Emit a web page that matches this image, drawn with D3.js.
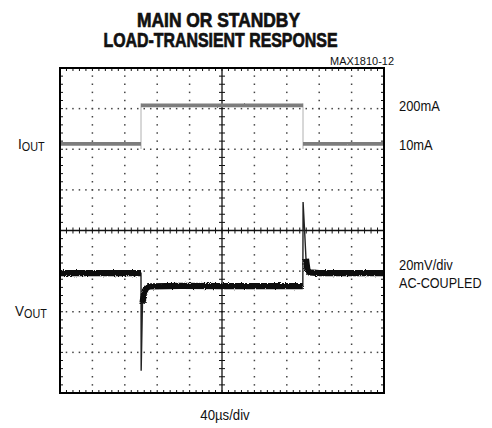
<!DOCTYPE html>
<html>
<head>
<meta charset="utf-8">
<script src="https://cdn.jsdelivr.net/npm/d3@7"></script>
<style>
  html, body { margin: 0; padding: 0; background: #fff; }
  svg { display: block; }
  text { font-family: "Liberation Sans Narrow", "Liberation Sans", Arial, sans-serif; fill: #111; }
</style>
</head>
<body>
<div id="chart"></div>
<script>
// ---------------- data ----------------
const titleLines = ["MAIN OR STANDBY", "LOAD-TRANSIENT RESPONSE"];
const figureId = "MAX1810-12";
const xAxisLabel = "40\u00b5s/div";

// time axis: 10 divisions x 40 us
const timeDomain = [0, 400];
const timeDivisionUs = 40;
const verticalDivisions = [-4, 4];

// IOUT trace (time in us, current in mA)
const ioutTime = [0, 100, 100, 300, 300, 400];
const ioutMa   = [10, 10, 200, 200, 10, 10];
const ioutLevels = [10, 200];          // mA
const ioutLevelDivs = [2.13, 3.08];    // screen position of those levels (div)
const ioutLabels = ["10mA", "200mA"];

// VOUT trace (time in us, AC-coupled voltage in mV, 20mV/div)
const voutTime = [0, 100, 100.2, 101.8, 103, 104.3, 106, 107.6, 112, 150, 200, 250, 299.8, 300.1, 301.9, 303.7, 305.5, 308, 320, 400];
const voutMv   = [-21, -21, -69, -36, -32.5, -30, -28.8, -28, -27.5, -27.3, -27.4, -27.4, -27.4, 14, 0.5, -14, -19.5, -20.6, -21, -21];
const voutMvPerDiv = 20;
const voutLabels = ["20mV/div", "AC-COUPLED"];

// ---------------- layout ----------------
const W = 492, H = 428;
const frame = { left: 60, right: 384, top: 68, bottom: 393 };

const svg = d3.select("#chart").append("svg")
  .attr("width", W).attr("height", H);

const defs = svg.append("defs");
function noiseFilter(id, freq, scale, seed) {
  const f = defs.append("filter").attr("id", id)
    .attr("filterUnits", "userSpaceOnUse")
    .attr("x", 0).attr("y", 0).attr("width", W).attr("height", H);
  f.append("feTurbulence").attr("type", "fractalNoise").attr("baseFrequency", freq)
    .attr("numOctaves", 1).attr("seed", seed).attr("result", "t");
  f.append("feDisplacementMap").attr("in", "SourceGraphic").attr("in2", "t")
    .attr("scale", scale).attr("xChannelSelector", "R").attr("yChannelSelector", "G");
}
noiseFilter("noise", 1.1, 3.4, 3);
noiseFilter("noise2", 1.3, 1.8, 7);

const x = d3.scaleLinear().domain(timeDomain).range([frame.left, frame.right]);
const yDiv = d3.scaleLinear().domain(verticalDivisions).range([frame.bottom, frame.top]);
const ioutToDiv = d3.scaleLinear().domain(ioutLevels).range(ioutLevelDivs);
const voutToDiv = v => v / voutMvPerDiv;

const g = svg.append("g");

// ---------------- graticule ----------------
const minorX = d3.range(timeDomain[0], timeDomain[1] + 0.001, timeDivisionUs / 5);
const minorY = d3.range(verticalDivisions[0], verticalDivisions[1] + 0.001, 0.2);
const majorX = d3.range(timeDomain[0] + timeDivisionUs, timeDomain[1], timeDivisionUs);
const majorY = d3.range(verticalDivisions[0] + 1, verticalDivisions[1], 1);
const centerT = (timeDomain[0] + timeDomain[1]) / 2;

const dots = [];
majorX.filter(t => t !== centerT).forEach(t => minorY.forEach(d => dots.push([x(t), yDiv(d)])));
majorY.filter(d => d !== 0).forEach(d => minorX.forEach(t => dots.push([x(t), yDiv(d)])));
g.append("g").selectAll("rect").data(dots).join("rect")
  .attr("x", d => d[0] - 0.75).attr("y", d => d[1] - 0.75)
  .attr("width", 1.5).attr("height", 1.5).attr("fill", "#444");

// center axes
const axG = g.append("g").attr("stroke", "#111").attr("fill", "none");
axG.append("line").attr("x1", x(timeDomain[0])).attr("x2", x(timeDomain[1]))
  .attr("y1", yDiv(0)).attr("y2", yDiv(0)).attr("stroke-width", 1.3);
axG.append("line").attr("x1", x(centerT)).attr("x2", x(centerT))
  .attr("y1", yDiv(verticalDivisions[0])).attr("y2", yDiv(verticalDivisions[1])).attr("stroke-width", 1.3);
axG.selectAll(".tx").data(minorX).join("line").attr("class", "tx")
  .attr("x1", d => x(d)).attr("x2", d => x(d))
  .attr("y1", yDiv(0) - 3).attr("y2", yDiv(0) + 3).attr("stroke-width", 1);
axG.selectAll(".ty").data(minorY).join("line").attr("class", "ty")
  .attr("y1", d => yDiv(d)).attr("y2", d => yDiv(d))
  .attr("x1", x(centerT) - 3).attr("x2", x(centerT) + 3).attr("stroke-width", 1);

// border ticks
const bt = g.append("g").attr("stroke", "#111").attr("stroke-width", 1);
bt.selectAll(".bl").data(minorY).join("line").attr("class", "bl")
  .attr("x1", frame.left).attr("x2", frame.left + 3).attr("y1", d => yDiv(d)).attr("y2", d => yDiv(d));
bt.selectAll(".br").data(minorY).join("line").attr("class", "br")
  .attr("x1", frame.right - 3).attr("x2", frame.right).attr("y1", d => yDiv(d)).attr("y2", d => yDiv(d));
bt.selectAll(".bt").data(minorX).join("line").attr("class", "bt")
  .attr("y1", frame.top).attr("y2", frame.top + 3).attr("x1", d => x(d)).attr("x2", d => x(d));
bt.selectAll(".bb").data(minorX).join("line").attr("class", "bb")
  .attr("y1", frame.bottom - 3).attr("y2", frame.bottom).attr("x1", d => x(d)).attr("x2", d => x(d));

// ---------------- traces ----------------
const line = d3.line().x(d => d[0]).y(d => d[1]);

// IOUT
const ioutPts = ioutTime.map((t, i) => [x(t), yDiv(ioutToDiv(ioutMa[i]))]);
for (let i = 0; i < ioutPts.length - 1; i++) {
  const a = ioutPts[i], b = ioutPts[i + 1];
  if (ioutTime[i] === ioutTime[i + 1]) {
    const lo = Math.max(a[1], b[1]), hi = Math.min(a[1], b[1]);
    g.append("path").attr("d", line([[a[0], hi - 2], [a[0], lo + 5]]))
      .attr("stroke", "#b0b0b0").attr("stroke-width", 1).attr("fill", "none");
  }
}
for (let i = 0; i < ioutPts.length - 1; i++) {
  if (ioutTime[i] !== ioutTime[i + 1]) {
    g.append("path").attr("d", line([ioutPts[i], ioutPts[i + 1]]))
      .attr("stroke", "#7d7d7d").attr("stroke-width", 3.8).attr("fill", "none")
      .attr("filter", "url(#noise2)");
  }
}

// VOUT
const voutPts = voutTime.map((t, i) => [x(t), yDiv(voutToDiv(voutMv[i]))]);
g.append("path").attr("d", line(voutPts))
  .attr("stroke", "#222").attr("stroke-width", 1.4).attr("fill", "none");
let run = [];
const runs = [];
for (let i = 0; i < voutPts.length - 1; i++) {
  const slope = Math.abs((voutMv[i + 1] - voutMv[i]) / (voutTime[i + 1] - voutTime[i]));
  if (slope < 4) {
    if (run.length === 0) run.push(voutPts[i]);
    run.push(voutPts[i + 1]);
  } else {
    if (run.length) runs.push(run);
    run = [];
  }
}
if (run.length) runs.push(run);
g.append("g").selectAll("path").data(runs).join("path")
  .attr("d", d => line(d))
  .attr("stroke", "#111").attr("stroke-width", 6.2).attr("fill", "none")
  .attr("stroke-linejoin", "round")
  .attr("filter", "url(#noise)");

// frame
g.append("rect").attr("x", frame.left).attr("y", frame.top)
  .attr("width", frame.right - frame.left).attr("height", frame.bottom - frame.top)
  .attr("fill", "none").attr("stroke", "#000").attr("stroke-width", 2);

// ---------------- text ----------------
const title = svg.append("g").attr("font-weight", "bold").attr("font-size", 20)
  .attr("stroke", "#111").attr("stroke-width", 0.7);
title.append("text").attr("x", 218.5).attr("y", 26.5).attr("text-anchor", "middle")
  .attr("textLength", 163).attr("lengthAdjust", "spacingAndGlyphs").text(titleLines[0]);
title.append("text").attr("x", 220.5).attr("y", 46.5).attr("text-anchor", "middle")
  .attr("textLength", 234).attr("lengthAdjust", "spacingAndGlyphs").text(titleLines[1]);

svg.append("text").attr("x", 394).attr("y", 64.5).attr("text-anchor", "end")
  .attr("font-size", 10.5).attr("textLength", 64).attr("lengthAdjust", "spacingAndGlyphs")
  .text(figureId);

// right labels (horizontally condensed via transform)
function condensedText(xPos, yPos, size, sx, str) {
  svg.append("g").attr("transform", `translate(${xPos},${yPos}) scale(${sx},1)`)
    .append("text").attr("x", 0).attr("y", 0).attr("font-size", size).text(str);
}
condensedText(399, yDiv(ioutLevelDivs[1]) + 6, 15, 0.86, ioutLabels[1]);
condensedText(399, yDiv(ioutLevelDivs[0]) + 6, 15, 0.86, ioutLabels[0]);
condensedText(399, 270, 15, 0.86, voutLabels[0]);
condensedText(399, 288, 15, 0.84, voutLabels[1]);

// left labels
const iG = svg.append("g").attr("transform", "translate(18,149) scale(0.9,1)");
const iText = iG.append("text").attr("x", 0).attr("y", 0).attr("font-size", 15);
iText.append("tspan").text("I");
iText.append("tspan").attr("font-size", 12).attr("dy", 2).text("OUT");
const vG = svg.append("g").attr("transform", "translate(15,316) scale(0.9,1)");
const vText = vG.append("text").attr("x", 0).attr("y", 0).attr("font-size", 15);
vText.append("tspan").text("V");
vText.append("tspan").attr("font-size", 12).attr("dy", 2).text("OUT");

// x label
svg.append("g").attr("transform", "translate(225,420) scale(0.88,1)")
  .append("text").attr("text-anchor", "middle").attr("font-size", 15)
  .text(xAxisLabel);
</script>
</body>
</html>
